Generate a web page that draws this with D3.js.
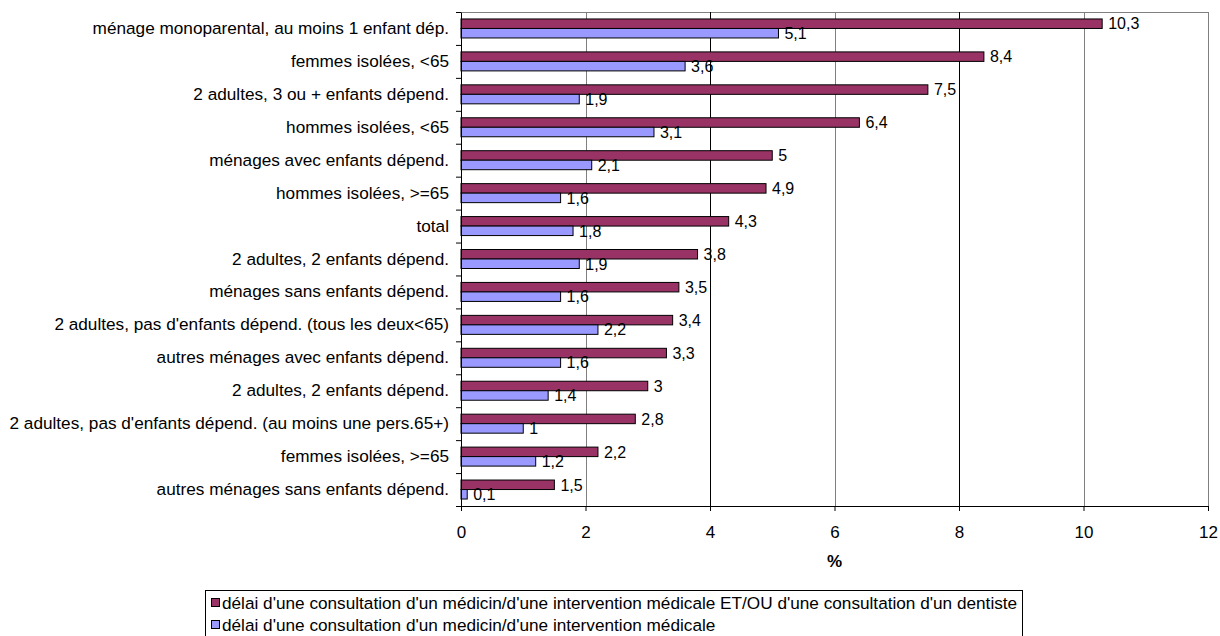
<!DOCTYPE html>
<html>
<head>
<meta charset="utf-8">
<script src="https://cdn.jsdelivr.net/npm/d3@7"></script>
<style>
  html, body { margin: 0; padding: 0; background: #fff; }
  svg { display: block; font-family: Arial, "Liberation Sans", sans-serif; }
</style>
</head>
<body>
<svg id="chart" width="1220" height="636"></svg>
<script>
const categories = [
  "ménage monoparental, au moins 1 enfant dép.",
  "femmes isolées, <65",
  "2 adultes, 3 ou + enfants dépend.",
  "hommes isolées, <65",
  "ménages avec enfants dépend.",
  "hommes isolées, >=65",
  "total",
  "2 adultes, 2 enfants dépend.",
  "ménages sans enfants dépend.",
  "2 adultes, pas d'enfants dépend. (tous les deux<65)",
  "autres ménages avec enfants dépend.",
  "2 adultes, 2 enfants dépend.",
  "2 adultes, pas d'enfants dépend. (au moins une pers.65+)",
  "femmes isolées, >=65",
  "autres ménages sans enfants dépend."
];
const seriesDentiste = [10.3, 8.4, 7.5, 6.4, 5, 4.9, 4.3, 3.8, 3.5, 3.4, 3.3, 3, 2.8, 2.2, 1.5];
const seriesMedecin  = [5.1, 3.6, 1.9, 3.1, 2.1, 1.6, 1.8, 1.9, 1.6, 2.2, 1.6, 1.4, 1, 1.2, 0.1];
const seriesNames = [
  "délai d'une consultation d'un médicin/d'une intervention médicale ET/OU d'une consultation d'un dentiste",
  "délai d'une consultation d'un medicin/d'une intervention médicale"
];
const xTicks = [0, 2, 4, 6, 8, 10, 12];
const axisTitle = "%";

(function () {
const colors = ["#993366", "#9999FF"];
const svg = d3.select("#chart");
const pLeft = 461, pRight = 1208, pTop = 12, pBottom = 506;
const labelSize = 17.2, valueSize = 16;

const x = d3.scaleLinear().domain([0, 12]).range([pLeft, pRight]);
const idx = categories.map((d, i) => i);
const y = d3.scaleBand().domain(idx).range([pTop, pBottom]).paddingInner(0).paddingOuter(0);
const yEdge = d3.scaleLinear().domain([0, categories.length]).range([pTop, pBottom]);

// plot frame (top/right) and gridlines
svg.append("line").attr("x1", pLeft).attr("x2", pRight).attr("y1", pTop + 0.5).attr("y2", pTop + 0.5)
  .attr("stroke", "#808080");
svg.append("line").attr("x1", pRight + 0.5).attr("x2", pRight + 0.5).attr("y1", pTop).attr("y2", pBottom)
  .attr("stroke", "#808080");
svg.append("g").selectAll("line").data(xTicks.slice(1, -1)).join("line")
  .attr("x1", d => Math.round(x(d)) + 0.5).attr("x2", d => Math.round(x(d)) + 0.5)
  .attr("y1", pTop).attr("y2", pBottom)
  .attr("stroke", d => (d === 4 || d === 8) ? "#000" : "#808080");

// bars
const barH = 9.5;
const series = [seriesDentiste, seriesMedecin];
series.forEach((vals, s) => {
  const g = svg.append("g");
  g.selectAll("rect").data(vals).join("rect")
    .attr("x", x(0))
    .attr("y", (d, i) => y(i) + y.bandwidth() / 2 - barH + s * barH)
    .attr("width", d => x(d) - x(0))
    .attr("height", barH)
    .attr("fill", colors[s])
    .attr("stroke", "#000")
    .attr("stroke-width", 1);
  g.selectAll("text").data(vals).join("text")
    .attr("x", d => x(d) + 6)
    .attr("y", (d, i) => y(i) + y.bandwidth() / 2 - barH + s * barH + barH / 2)
    .attr("dy", "0.36em")
    .attr("font-size", valueSize)
    .attr("fill", "#000")
    .text(d => String(d).replace(".", ","));
});

// x axis
const xAxis = svg.append("g").attr("transform", `translate(0,${pBottom})`)
  .call(d3.axisBottom(x).tickValues(xTicks).tickSize(5).tickPadding(15).tickSizeOuter(0)
        .tickFormat(d => String(d)));
xAxis.select(".domain").attr("stroke", "#000").attr("d", `M${pLeft - 5},0.5H${pRight}`);
xAxis.selectAll(".tick line").attr("stroke", "#000");
xAxis.selectAll("text").attr("font-size", 17).attr("fill", "#000").attr("font-family", null);

// y axis: boundary ticks
const yAxis = svg.append("g").attr("transform", `translate(${pLeft},0)`)
  .call(d3.axisLeft(yEdge).tickValues(d3.range(0, categories.length + 1)).tickSize(5)
        .tickFormat(() => "").tickSizeOuter(0));
yAxis.select(".domain").attr("stroke", "#000");
yAxis.selectAll(".tick line").attr("stroke", "#000");

// y labels
const yLab = svg.append("g").attr("transform", `translate(${pLeft},0)`)
  .call(d3.axisLeft(y).tickSize(0).tickPadding(12).tickFormat(i => categories[i]));
yLab.select(".domain").remove();
yLab.selectAll("text").attr("font-size", labelSize).attr("fill", "#000").attr("font-family", null);

// axis title
svg.append("text").attr("x", (pLeft + pRight) / 2).attr("y", 567)
  .attr("text-anchor", "middle").attr("font-size", 17).attr("font-weight", "bold")
  .text(axisTitle);

// legend
const lg = svg.append("g");
lg.append("rect").attr("x", 205.5).attr("y", 590.5).attr("width", 817).attr("height", 60)
  .attr("fill", "#fff").attr("stroke", "#000");
const legendY = [603, 625];
seriesNames.forEach((name, s) => {
  lg.append("rect").attr("x", 211.5).attr("y", legendY[s] - 4.5).attr("width", 8).attr("height", 8)
    .attr("fill", colors[s]).attr("stroke", "#000");
  lg.append("text").attr("x", 222).attr("y", legendY[s]).attr("dy", "0.36em")
    .attr("font-size", labelSize).text(name);
});
})();
</script>
</body>
</html>
